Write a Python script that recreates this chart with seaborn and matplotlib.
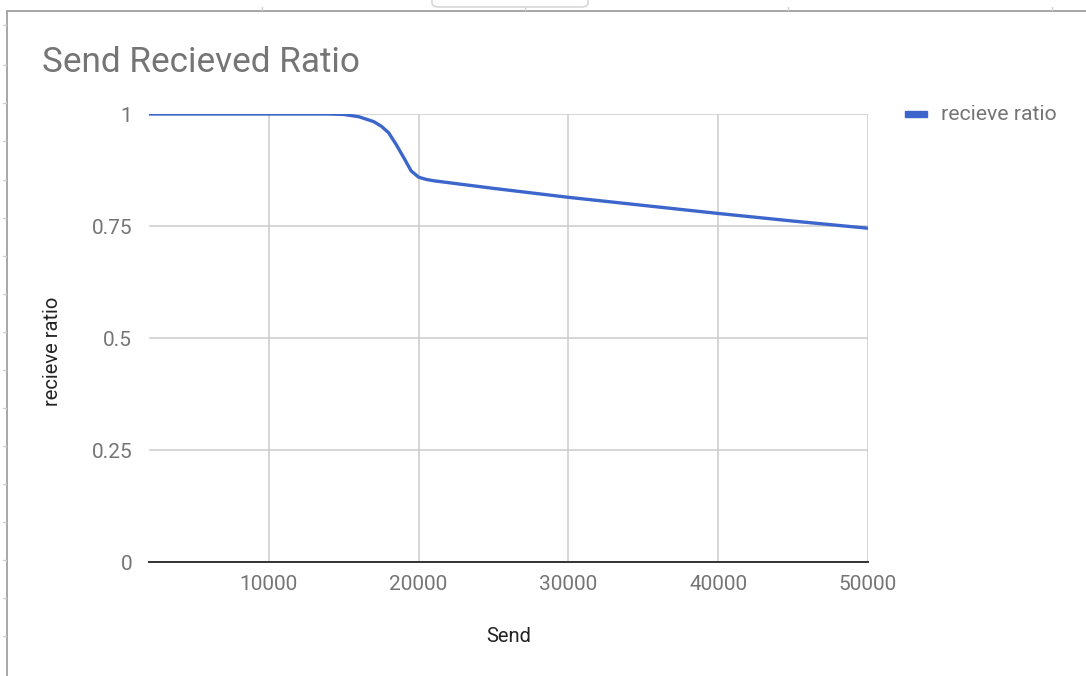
import numpy as np
import pandas as pd
import matplotlib
matplotlib.use("Agg")
import matplotlib.pyplot as plt
import seaborn as sns
from matplotlib.patches import FancyBboxPatch, Rectangle
from matplotlib.lines import Line2D

# Messages sent vs. fraction received
send = [2000, 4000, 6000, 8000, 10000, 12000, 14000, 15000, 16000, 17000,
        17500, 18000, 18500, 19000, 19500, 20000, 20500, 21000, 25000,
        30000, 35000, 40000, 45000, 50000]
recieve_ratio = [1.0, 1.0, 1.0, 1.0, 1.0, 1.0, 1.0, 0.999, 0.994, 0.983,
                 0.973, 0.958, 0.932, 0.903, 0.873, 0.859, 0.854, 0.851, 0.834,
                 0.814, 0.796, 0.778, 0.761, 0.745]

x_ticks = [10000, 20000, 30000, 40000, 50000]
y_ticks = [0, 0.25, 0.5, 0.75, 1]
y_tick_labels = ["0", "0.25", "0.5", "0.75", "1"]

df = pd.DataFrame({"Send": send, "recieve ratio": recieve_ratio})

sns.set_theme(style="white")
plt.rcParams["font.family"] = ["Roboto", "DejaVu Sans"]

W, H = 1086, 676
fig = plt.figure(figsize=(W / 100, H / 100), dpi=100)
ax = fig.add_axes([149 / W, 1 - 562 / H, (868 - 149) / W, (562 - 114) / H])

LINE = "#3d66cc"
GRID = "#cccccc"
TXT = "#757575"

sns.lineplot(data=df, x="Send", y="recieve ratio", ax=ax, color=LINE,
             linewidth=2.4, zorder=5, legend=False, solid_capstyle="butt",
             solid_joinstyle="round")

ax.set_xlim(2000, 50000)
ax.set_ylim(0, 1)
ax.set_xticks(x_ticks)
ax.set_xticklabels([str(t) for t in x_ticks])
ax.set_yticks(y_ticks)
ax.set_yticklabels(y_tick_labels)
ax.grid(True, color=GRID, linewidth=1.1)
ax.set_axisbelow(True)
for side in ["left", "right", "top"]:
    ax.spines[side].set_visible(False)
ax.spines["bottom"].set_color("#333333")
ax.spines["bottom"].set_linewidth(1.4)
ax.spines["bottom"].set_zorder(6)
ax.tick_params(axis="both", length=0, labelsize=15, labelcolor=TXT)
ax.tick_params(axis="x", pad=9)
ax.tick_params(axis="y", pad=12)

ax.set_xlabel("Send", fontsize=14.5, color="#222222", labelpad=24)
ax.set_ylabel("recieve ratio", fontsize=14.5, color="#222222")
ax.yaxis.set_label_coords(-(149 - 53) / (868 - 149), 0.47)
ax.yaxis.label.set_va("center")

# Title
fig.text(42 / W, 1 - 62 / H, "Send Recieved Ratio", fontsize=25.3,
         color=TXT, ha="left", va="center")

# Legend
fig.patches.append(Rectangle((905 / W, 1 - 117 / H), 22 / W, 6 / H,
                             transform=fig.transFigure, color=LINE, zorder=10))
fig.text(941 / W, 1 - 114 / H, "recieve ratio", fontsize=15.3, color=TXT,
         ha="left", va="center")

# Sheet frame around the chart
BORDER = "#a0a0a0"
fig.lines.append(Line2D([7 / W, 1], [1 - 10.5 / H, 1 - 10.5 / H],
                        transform=fig.transFigure, color=BORDER, linewidth=1.3))
fig.lines.append(Line2D([7 / W, 7 / W], [0, 1 - 10.5 / H],
                        transform=fig.transFigure, color=BORDER, linewidth=1.3))
for yy in [25, 65, 103, 141, 180, 218, 256, 294, 332, 370, 408, 446, 484, 522, 560, 598, 636]:
    fig.lines.append(Line2D([3 / W, 6 / W], [1 - yy / H, 1 - yy / H],
                            transform=fig.transFigure, color="#d0d0d0", linewidth=1))
for xx in [262, 525, 788, 1052]:
    fig.lines.append(Line2D([xx / W, xx / W], [1 - 7 / H, 1 - 10 / H],
                            transform=fig.transFigure, color="#d0d0d0", linewidth=1))
fig.patches.append(FancyBboxPatch((432 / W, 1 - 7 / H), 156 / W, 14 / H,
                                  boxstyle="round,pad=0,rounding_size=0.006",
                                  transform=fig.transFigure, facecolor="white",
                                  edgecolor="#d8d8d8", linewidth=1.2, zorder=3))

fig.savefig("out.png", dpi=100, facecolor="white")
